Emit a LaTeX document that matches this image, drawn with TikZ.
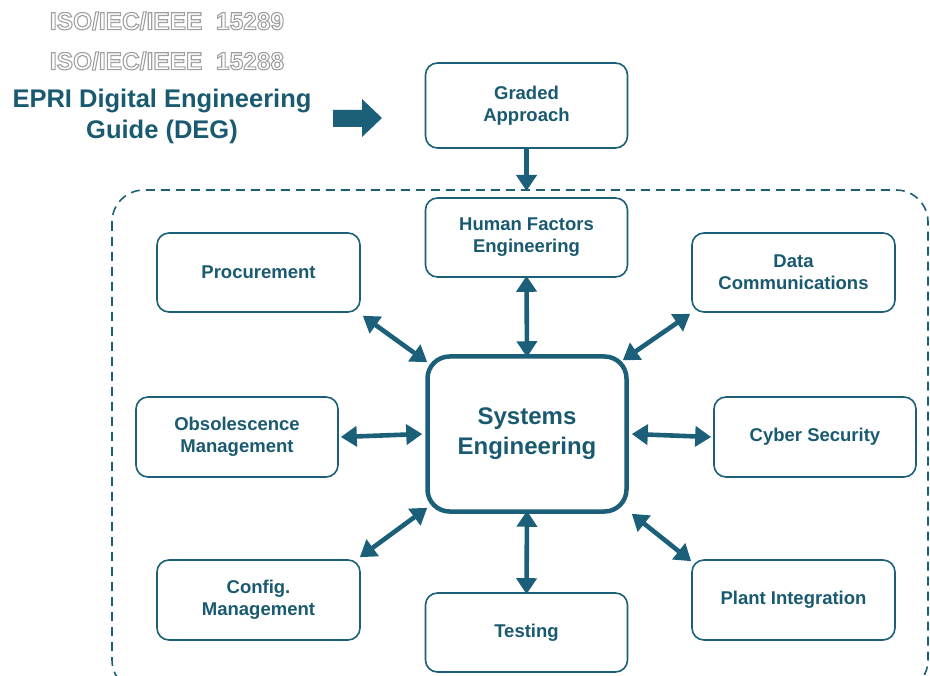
\documentclass[tikz,border=0pt]{standalone}
\usepackage{fontspec}
\setmainfont{Liberation Sans}
\usetikzlibrary{arrows.meta}
\definecolor{teal1}{HTML}{1B5F78}
\definecolor{tealtxt}{HTML}{1A5A70}
\newcommand{\outlinetext}[1]{\special{pdf:literal direct 1 Tr 1.1 w}#1\special{pdf:literal direct 0 Tr}}
\begin{document}
\begin{tikzpicture}[x=1pt,y=-1pt,
  box/.style={draw=teal1,line width=1.6pt,rounded corners=12pt,fill=white,
    minimum width=202pt,minimum height=80pt,align=center,
    font=\fontsize{18.5}{22}\selectfont\bfseries,text=tealtxt},
  conn/.style={draw=teal1,line width=4.6pt,-{Triangle[length=16pt,width=20pt]}},
  bconn/.style={draw=teal1,line width=4.6pt,{Triangle[length=16pt,width=20pt]}-{Triangle[length=16pt,width=20pt]}},
  iso/.style={font=\fontsize{24.5}{26}\selectfont\bfseries,text=gray!75}]
\useasboundingbox (0,0) rectangle (930,676);
\begin{scope}
\clip (0,0) rectangle (930,676);
\draw[teal1,line width=1.6pt,dash pattern=on 9pt off 6pt,rounded corners=32pt] (112,190) rectangle (928,692);
\end{scope}
\node[iso] (iso1) at (167,21) {\outlinetext{ISO/IEC/IEEE\ \ 15289}};
\node[iso] (iso2) at (167,61) {\outlinetext{ISO/IEC/IEEE\ \ 15288}};
\node[align=center,text=tealtxt,font=\fontsize{25.5}{31}\selectfont\bfseries] (epri) at (162,116) {EPRI Digital Engineering\\Guide (DEG)};
\fill[teal1] (333,110) -- (362,110) -- (362,99) -- (382,118) -- (362,137) -- (362,127) -- (333,127) -- cycle;
\node[box,minimum height=85pt] (graded) at (526.5,105.5) {Graded\\Approach};
\node[box,minimum height=79pt] (hfe) at (526.5,237.5) {Human Factors\\Engineering};
\node[box,minimum height=79pt,minimum width=203pt] (proc) at (258.5,272.5) {Procurement};
\node[box,minimum height=79pt,minimum width=203pt] (data) at (793.5,272.5) {Data\\Communications};
\node[box] (obs) at (237,437) {Obsolescence\\Management};
\node[box,line width=4.5pt,rounded corners=22pt,minimum height=155pt,minimum width=199pt,font=\fontsize{24}{30}\selectfont\bfseries] (se) at (527,434) {Systems\\Engineering};
\node[box] (cyber) at (815,437) {Cyber Security};
\node[box,minimum width=203pt] (config) at (258.5,600) {Config.\\Management};
\node[box,minimum height=79pt] (test) at (526.5,632.5) {Testing};
\node[box,minimum width=203pt] (plant) at (793.5,600) {Plant Integration};
\coordinate (dashtop) at (526.5,191);
\draw[conn] (graded.south) -- (dashtop);
\draw[bconn] ([yshift=2pt]hfe.south) -- ([yshift=-3pt]se.north);
\draw[bconn] (proc.south east) ++(2,3) -- ([shift={(2,8)}]se.north west);
\draw[bconn] (data.south west) ++(-1,1) -- ([shift={(-6,6)}]se.north east);
\draw[bconn] ([xshift=2pt]obs.east) -- ([xshift=-3pt]se.west);
\draw[bconn] ([xshift=3pt]se.east) -- ([xshift=-2pt]cyber.west);
\draw[bconn] (config.north east) ++(-1,-2) -- ([shift={(2,-6)}]se.south west);
\draw[bconn] ([yshift=3pt]se.south) -- ([yshift=-2pt]test.north);
\draw[bconn] ([shift={(3,0)}]se.south east) -- ([shift={(0,2)}]plant.north west);
\end{tikzpicture}
\end{document}
